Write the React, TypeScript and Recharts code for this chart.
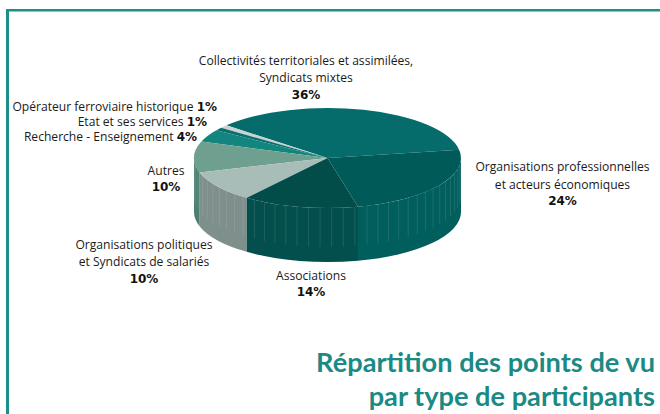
import { Pie, PieChart } from 'recharts';

const categories = [
  'Collectivités territoriales et assimilées, Syndicats mixtes',
  'Opérateur ferroviaire historique',
  'Etat et ses services',
  'Recherche - Enseignement',
  'Autres',
  'Organisations politiques et Syndicats de salariés',
  'Associations',
  'Organisations professionnelles et acteurs économiques',
];
const shares = [36, 1, 1, 4, 10, 10, 14, 24];
const topColors = ['#056b6b', '#c9d3d1', '#0b6f6d', '#12857f', '#6fa08f', '#a8bdb8', '#024c4a', '#005a58'];
const wallColors = ['#056b6b', '#c9d3d1', '#0b6f6d', '#12857f', '#4a8070', '#7f8f8c', '#034f4d', '#005e5c'];

const pieData = categories.map((name, i) => ({
  name,
  value: shares[i],
  fill: topColors[i],
  wall: wallColors[i],
}));

const SQUASH = 0.3745;
const DEPTH = 54;
const RAD = Math.PI / 180;
const TEAL = '#1c8f88';

// recharts only knows a flat circle, so tilt each slice here and add its rim
function TiltedSlice(props: any) {
  const { cx, cy, outerRadius: r, startAngle, endAngle, fill, payload } = props;
  const ry = r * SQUASH;
  const at = (deg: number) => [cx + r * Math.cos(deg * RAD), cy - ry * Math.sin(deg * RAD)];
  const [x0, y0] = at(startAngle);
  const [x1, y1] = at(endAngle);
  const large = endAngle - startAngle > 180 ? 1 : 0;
  const top = `M${cx},${cy}L${x0},${y0}A${r},${ry} 0 ${large} 0 ${x1},${y1}Z`;

  const from = Math.max(startAngle, 180);
  const to = Math.min(endAngle, 360);
  let wall = null;
  if (to > from) {
    const [wx0, wy0] = at(from);
    const [wx1, wy1] = at(to);
    const d =
      `M${wx0},${wy0}A${r},${ry} 0 0 0 ${wx1},${wy1}` +
      `L${wx1},${wy1 + DEPTH}A${r},${ry} 0 0 1 ${wx0},${wy0 + DEPTH}Z`;
    const seams = [];
    for (let a = from + 4; a < to - 1; a += 5) {
      const [sx, sy] = at(a);
      seams.push(
        <line key={a} x1={sx} y1={sy} x2={sx} y2={sy + DEPTH * 0.72} stroke="#fff" strokeOpacity={0.16} strokeWidth={0.7} />,
      );
    }
    wall = (
      <g>
        <path d={d} fill={payload.wall ?? props.wall} />
        {seams}
      </g>
    );
  }
  return (
    <g>
      {wall}
      <path d={top} fill={fill} />
    </g>
  );
}

const labelStyle = { fontFamily: 'Open Sans', fontSize: 12.1, fill: '#1a1a1a' };
const pctStyle = { fontFamily: 'DejaVu Sans', fontWeight: 700, fontSize: 12, fill: '#111' };
const titleStyle = { fontFamily: 'Lato', fontWeight: 700, fontSize: 27.2, fill: '#1a8a85' };

function Label({ x, y, anchor = 'middle', children }: any) {
  return (
    <text x={x} y={y} textAnchor={anchor} style={labelStyle}>
      {children}
    </text>
  );
}

export default function App() {
  return (
    <div style={{ position: 'absolute', left: 0, top: 0, width: 660, height: 414, overflow: 'hidden', background: '#fff' }}>
      <PieChart width={660} height={414} margin={{ top: 0, right: 0, bottom: 0, left: 0 }}>
        <rect x={6} y={9} width={654} height={2.5} fill={TEAL} />
        <rect x={6} y={9} width={3} height={405} fill={TEAL} />
        <Pie
          data={pieData}
          dataKey="value"
          cx={327.5}
          cy={158}
          outerRadius={133.5}
          startAngle={9.6}
          endAngle={369.6}
          stroke="none"
          isAnimationActive={false}
          shape={TiltedSlice}
        />

        <Label x={306} y={65}>Collectivités territoriales et assimilées,</Label>
        <Label x={306} y={82}>Syndicats mixtes</Label>
        <Label x={306} y={99}><tspan style={pctStyle}>36%</tspan></Label>

        <Label x={217} y={111} anchor="end">Opérateur ferroviaire historique <tspan style={pctStyle}>1%</tspan></Label>
        <Label x={207} y={126} anchor="end">Etat et ses services <tspan style={pctStyle}>1%</tspan></Label>
        <Label x={197} y={141} anchor="end">Recherche - Enseignement <tspan style={pctStyle}>4%</tspan></Label>

        <Label x={166} y={175}>Autres</Label>
        <Label x={166} y={191}><tspan style={pctStyle}>10%</tspan></Label>

        <Label x={144} y={249}>Organisations politiques</Label>
        <Label x={144} y={266}>et Syndicats de salariés</Label>
        <Label x={144} y={283}><tspan style={pctStyle}>10%</tspan></Label>

        <Label x={311} y={280}>Associations</Label>
        <Label x={311} y={296}><tspan style={pctStyle}>14%</tspan></Label>

        <Label x={562.5} y={171}>Organisations professionnelles</Label>
        <Label x={562.5} y={189}>et acteurs économiques</Label>
        <Label x={562.5} y={205}><tspan style={pctStyle}>24%</tspan></Label>

        <text x={655} y={372} textAnchor="end" style={titleStyle}>
          Répartition des points de vu
        </text>
        <text x={655} y={406} textAnchor="end" style={titleStyle}>
          par type de participants
        </text>
      </PieChart>
    </div>
  );
}
